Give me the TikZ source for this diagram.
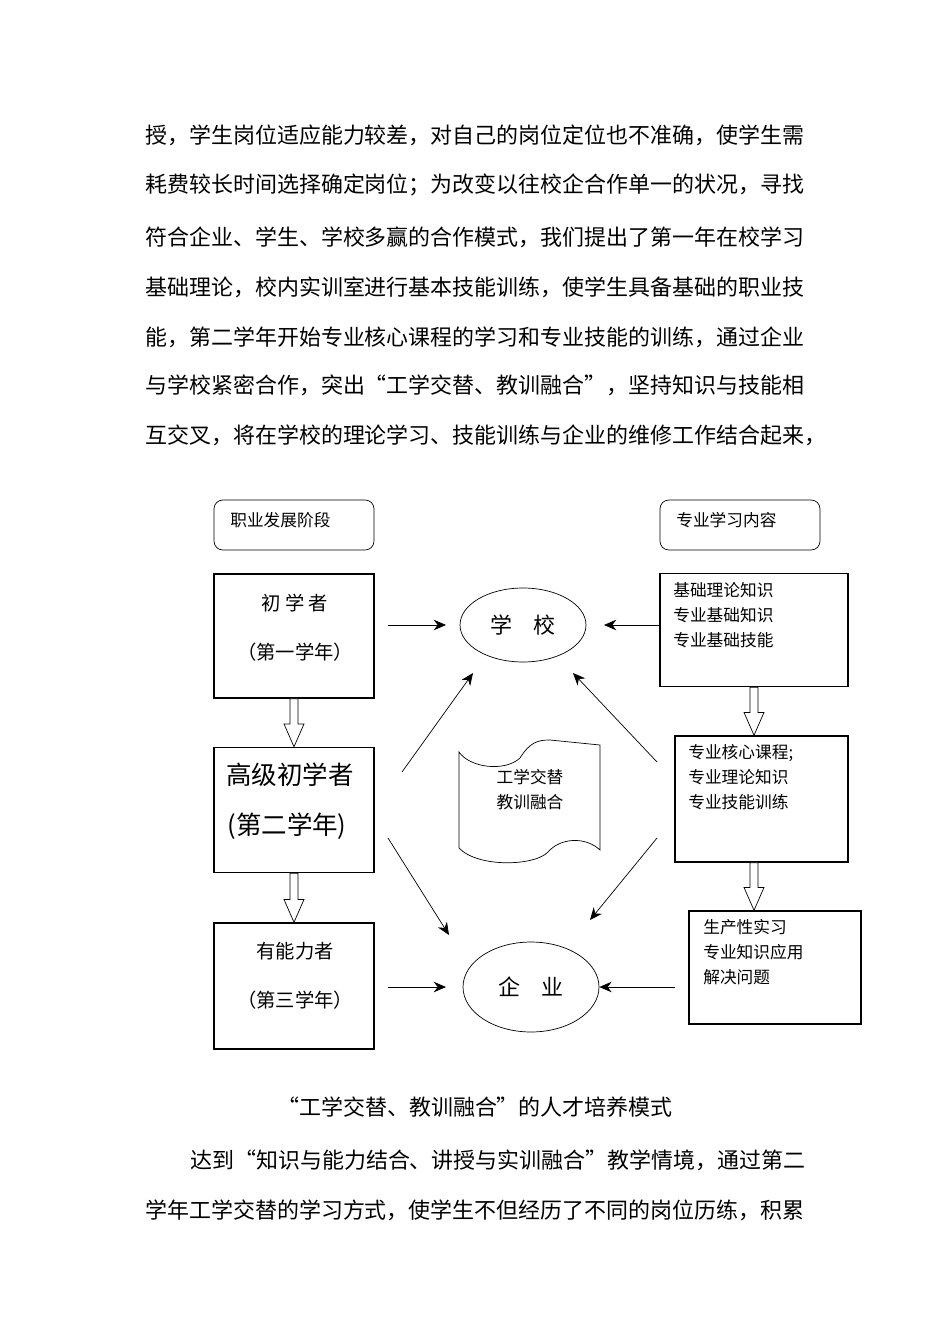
\documentclass[tikz,border=0pt]{standalone}
\usepackage{fontspec}
\setmainfont{Liberation Serif}
\newfontfamily\cjk{Noto Sans CJK SC}
\usetikzlibrary{positioning,calc,shapes.geometric,arrows.meta}
\XeTeXlinebreaklocale "zh"
\XeTeXlinebreakskip=0pt plus 2pt
\tikzset{
  body/.style={anchor=west,inner sep=0pt,font=\cjk\fontsize{12.5}{15}\selectfont},
  plainbox/.style={draw,thick,inner sep=0pt},
  tag/.style={draw,rounded corners=5pt,inner sep=0pt,minimum width=3.2cm,minimum height=1cm},
  lbl/.style={inner sep=0pt,align=left,font=\cjk\fontsize{9.5}{14.2}\selectfont},
  oval/.style={draw,ellipse,inner sep=0pt},
  link/.style={-{Stealth[length=7pt,width=6pt]},thin},
  fat/.style={draw,thin,fill=white}
}
\newcommand{\textline}[3]{\node[body] (#1) at (145,#2) {\makebox[13.2cm][s]{#3}};}
% hollow arrow at column x=#1 from node #2 south to node #3 north
\newcommand{\fatdown}[3]{%
  \draw[fat] let \p1=(#2.south), \p2=(#3.north) in
    (#1-4,\y1) -- (#1-4,\y2+13) -- (#1-10,\y2+13) -- (#1,\y2)
    -- (#1+10,\y2+13) -- (#1+4,\y2+13) -- (#1+4,\y1) -- cycle;}
\begin{document}
\begin{tikzpicture}[x=0.02cm,y=-0.02cm]
\useasboundingbox (0,0) rectangle (950,1344);
% running text above
\textline{p1}{135}{授，学生岗位适应能力较差，对自己的岗位定位也不准确，使学生需}
\textline{p2}{185}{耗费较长时间选择确定岗位；为改变以往校企合作单一的状况，寻找}
\textline{p3}{237}{符合企业、学生、学校多赢的合作模式，我们提出了第一年在校学习}
\textline{p4}{287}{基础理论，校内实训室进行基本技能训练，使学生具备基础的职业技}
\textline{p5}{337}{能，第二学年开始专业核心课程的学习和专业技能的训练，通过企业}
\textline{p6}{385}{与学校紧密合作，突出“工学交替、教训融合”，坚持知识与技能相}
\textline{p7}{435}{互交叉，将在学校的理论学习、技能训练与企业的维修工作结合起来，}
% headings
\node[tag] (stage) at (294,525) {};
\node[lbl,anchor=west] at (230,520) {职业发展阶段};
\node[tag] (study) at (740,525) {};
\node[lbl,anchor=west] at (676,520) {专业学习内容};
% left column
\node[plainbox,minimum width=3.2cm,minimum height=2.48cm] (novice) at (294,636) {};
\node[lbl,font=\cjk\fontsize{11}{14}\selectfont] at (295,603) {初\ 学\ 者};
\node[lbl,font=\cjk\fontsize{11}{14}\selectfont] at (295,652) {（第一学年）};
\node[plainbox,minimum width=3.2cm,minimum height=2.5cm] (advanced) at (294,810) {};
\node[lbl,font=\cjk\fontsize{14.5}{18}\selectfont] at (290,775) {高级初学者};
\node[lbl,font=\cjk\fontsize{14.5}{18}\selectfont] at (287,826) {(第二学年)};
\node[plainbox,minimum width=3.2cm,minimum height=2.52cm] (capable) at (294,986) {};
\node[lbl,font=\cjk\fontsize{11}{14}\selectfont] at (295,951) {有能力者};
\node[lbl,font=\cjk\fontsize{11}{14}\selectfont] at (295,1000) {（第三学年）};
% ellipses
\node[oval,minimum width=2.52cm,minimum height=1.48cm,font=\cjk\fontsize{12.5}{15}\selectfont] (school) at (523,625) {学\quad 校};
\node[oval,minimum width=2.72cm,minimum height=1.8cm,font=\cjk\fontsize{12.5}{15}\selectfont] (firm) at (531,987) {企\quad 业};
% right column
\node[plainbox,minimum width=3.76cm,minimum height=2.26cm] (basic) at (754,630) {};
\node[lbl,anchor=north west] at (673,582) {基础理论知识\\专业基础知识\\专业基础技能};
\node[plainbox,minimum width=3.46cm,minimum height=2.52cm] (core) at (761.5,799) {};
\node[lbl,anchor=north west] at (688,744) {专业核心课程;\\专业理论知识\\专业技能训练};
\node[plainbox,minimum width=3.44cm,minimum height=2.26cm] (practice) at (775,967.5) {};
\node[lbl,anchor=north west] at (703,919) {生产性实习\\专业知识应用\\解决问题};
% scroll in the middle
\draw[thin] (459,752) .. controls (470,768) and (505,772) .. (520,758)
  .. controls (530,742) and (538,740) .. (550,740) -- (600,745) -- (600,850)
  .. controls (585,836) and (560,838) .. (548,852)
  .. controls (535,866) and (478,868) .. (459,848) -- cycle;
\node[lbl,align=center] (mix) at (530,790) {工学交替\\教训融合};
% hollow arrows
\fatdown{294}{novice}{advanced}
\fatdown{294}{advanced}{capable}
\fatdown{754}{basic}{core}
\fatdown{754}{core}{practice}
% arrows into the ellipses
\coordinate (a1) at (388,625);
\coordinate (a2) at (388,987);
\coordinate (b1) at (660,625);
\coordinate (s1) at (402,772);
\coordinate (s2) at (657,762);
\coordinate (f1) at (388,838);
\coordinate (f2) at (657,838);
\coordinate (t1) at (473,673);
\coordinate (t2) at (573,673);
\coordinate (e1) at (449,935);
\coordinate (e2) at (590,920);
\draw[link] (a1) -- (446,625);
\draw[link] (b1) -- (604,625);
\draw[link] (a2) -- (446,987);
\draw[link] (675,987) -- (firm.east);
\draw[link] (s1) -- (t1);
\draw[link] (s2) -- (t2);
\draw[link] (f1) -- (e1);
\draw[link] (f2) -- (e2);
% caption and text below
\node[body,anchor=center] (cap) at (475,1107) {“工学交替、教训融合”的人才培养模式};
\node[body] (q1) at (190,1160) {\makebox[12.3cm][s]{达到“知识与能力结合、讲授与实训融合”教学情境，通过第二}};
\textline{q2}{1210}{学年工学交替的学习方式，使学生不但经历了不同的岗位历练，积累}
\end{tikzpicture}
\end{document}
